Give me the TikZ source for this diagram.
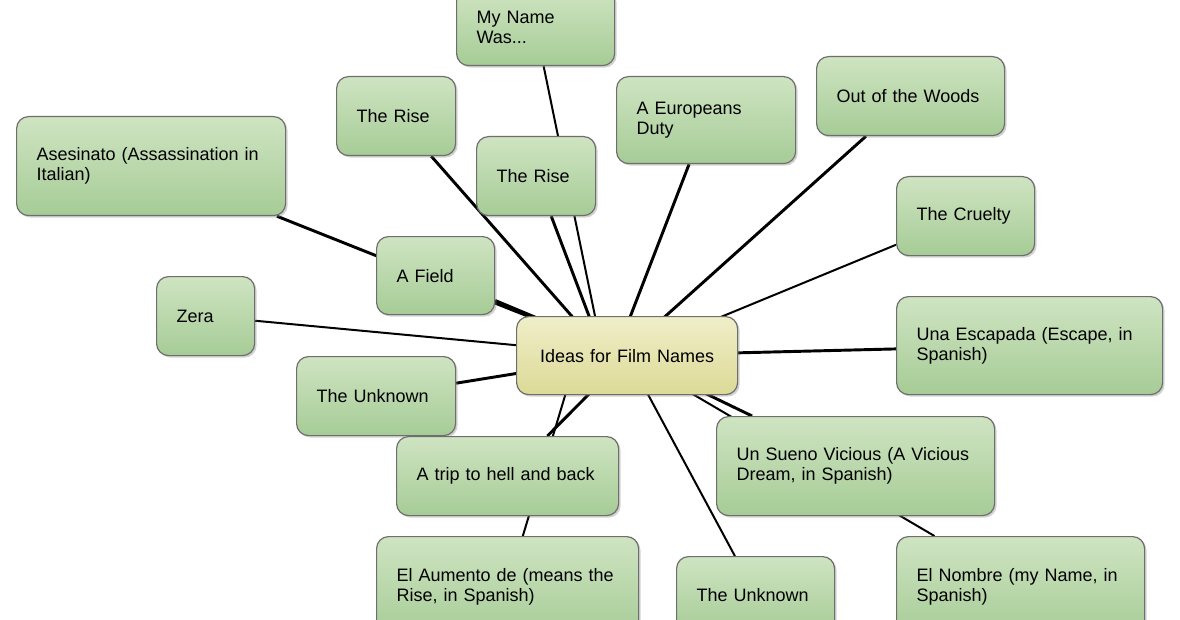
\documentclass[tikz,border=0pt]{standalone}
\usepackage{fontspec}
\setmainfont{Liberation Sans}
\usetikzlibrary{backgrounds,shadows}
\definecolor{bordgray}{HTML}{6E6E6E}
\definecolor{gtop}{HTML}{CFE4C2}
\definecolor{gbot}{HTML}{A6CC96}
\definecolor{ytop}{HTML}{F0EEC8}
\definecolor{ybot}{HTML}{DCDA96}
\tikzset{
 box/.style={draw=bordgray,line width=0.9pt,rounded corners=9pt,anchor=north west,
   top color=gtop,bottom color=gbot,
   drop shadow={shadow xshift=1.5pt,shadow yshift=-1.5pt,opacity=0.35},
   align=left,inner xsep=15pt,font=\fontsize{13.5pt}{15pt}\selectfont},
 cbox/.style={box,top color=ytop,bottom color=ybot,align=center},
 link/.style={line width=2.2pt,black},
 tlink/.style={line width=1.5pt,black}
}
\newcommand{\bx}[6]{\node[#1,minimum width={(#4-#2)*0.75pt},minimum height={(#5-#3)*0.75pt},text width={(#4-#2)*0.75pt-30pt}] (#6) at (#2,#3)}
\begin{document}
\begin{tikzpicture}[x=0.75pt,y=-0.75pt]
\useasboundingbox (0,0) rectangle (1180,620);
\bx{cbox}{516}{316}{737}{394}{c} {Ideas for Film Names};
\bx{box}{456}{-12}{614}{65}{n1} {My Name\\Was...};
\bx{box}{336}{76}{455}{155}{n2} {The Rise};
\bx{box}{476}{136}{595}{215}{n3} {The Rise};
\bx{box}{616}{76}{795}{163}{n4} {A Europeans\\Duty};
\bx{box}{816}{56}{1004}{135}{n5} {Out of the Woods};
\bx{box}{16}{116}{285}{215}{n6} {Asesinato (Assassination in\\Italian)};
\bx{box}{896}{176}{1034}{255}{n7} {The Cruelty};
\bx{box}{376}{236}{494}{314}{n8} {A Field};
\bx{box}{156}{276}{254}{355}{n9} {Zera};
\bx{box}{896}{296}{1162}{394}{n10} {Una Escapada (Escape, in\\Spanish)};
\bx{box}{296}{356}{455}{435}{n11} {The Unknown};
\bx{box}{396}{436}{618}{515}{n12} {A trip to hell and back};
\bx{box}{716}{416}{994}{515}{n13} {Un Sueno Vicious (A Vicious\\Dream, in Spanish)};
\bx{box}{376}{536}{638}{636}{n14} {El Aumento de (means the\\Rise, in Spanish)};
\bx{box}{676}{556}{834}{632}{n15} {The Unknown};
\bx{box}{896}{536}{1144}{636}{n16} {El Nombre (my Name, in\\Spanish)};
\begin{scope}[on background layer]
\fill[white] (0,0) rectangle (1180,620);
\draw[tlink] (c.center) ++(-25,-5) -- (n1);
\draw[link] (c.center) ++(-25,-5) -- (n2);
\draw[link] (c.center) ++(-25,-5) -- (n3);
\draw[link] (c.center) ++(-10,-5) -- (n4);
\draw[link] (c.center) ++(0,-5) -- (n5);
\draw[link] (c.center) -- (n6);
\draw[tlink] (c.center) -- (n7);
\draw[link] (c.center) -- (n8);
\draw[tlink] (c.center) -- (n9);
\draw[link] (c.center) -- (n10);
\draw[link] (c.center) -- (n11);
\draw[link] (c.center) -- (n12);
\draw[link] (c.center) -- (n13);
\draw[tlink] (c.center) ++(-50,0) -- (n14);
\draw[tlink] (c.center) -- (n15);
\draw[tlink] (c.center) -- (n16);
\end{scope}
\end{tikzpicture}
\end{document}
